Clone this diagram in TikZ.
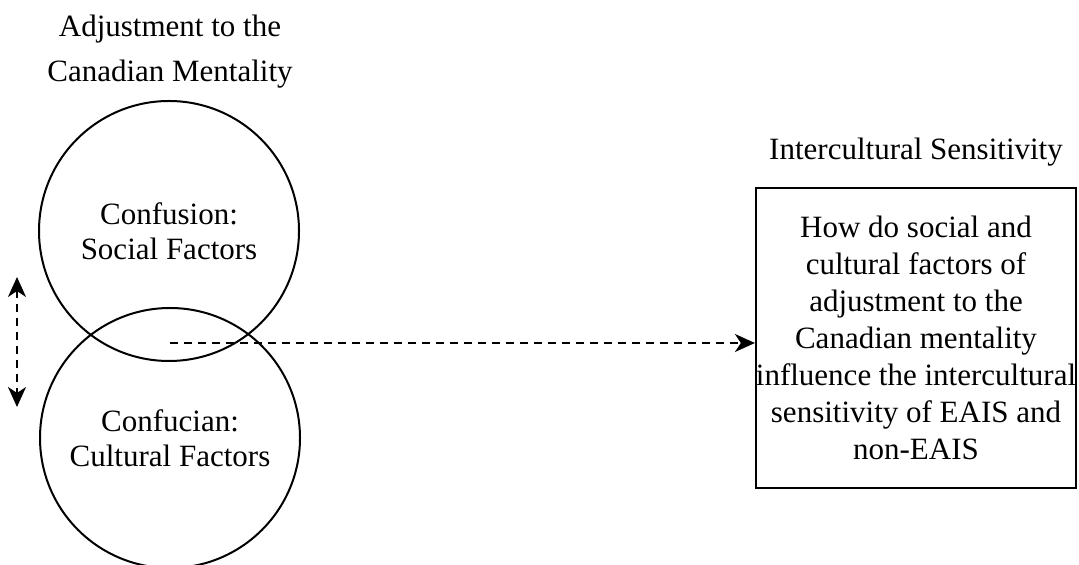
\documentclass[tikz,border=0pt]{standalone}
\usepackage{fontspec}
\setmainfont{Liberation Serif}
\usetikzlibrary{arrows.meta,positioning}
\tikzset{
  bubble/.style={circle, draw, line width=1pt, minimum size=130pt, inner sep=0pt,
    align=center, font=\fontsize{15.5}{17.5}\selectfont},
  qbox/.style={rectangle, draw, line width=1pt, minimum width=159pt, minimum height=149.5pt,
    inner sep=0pt, align=center, font=\fontsize{15.5}{18.5}\selectfont},
  title/.style={align=center, font=\fontsize{15.5}{22.5}\selectfont},
  tip/.tip={Stealth[length=10pt,width=9pt,inset=3pt]},
  link/.style={line width=1.2pt, dash pattern=on 4pt off 3pt, -tip},
}
\begin{document}
\begin{tikzpicture}[x=0.5pt, y=-0.5pt]
    \useasboundingbox (0,0) rectangle (1079,565);

    % 圆
    \node[bubble] (social) at (169,231) {Confusion:\\Social Factors};
    \node[bubble] (cultural) at (170,438) {Confucian:\\Cultural Factors};
    \node[title] (adjust) at (170,52) {Adjustment to the\\Canadian Mentality};

    % 方框
    \node[qbox] (question) at (916,338) {How do social and\\cultural factors of\\adjustment to the\\Canadian mentality\\influence the intercultural\\sensitivity of EAIS and\\non-EAIS};
    \node[title, above=7pt of question] (sens) {Intercultural Sensitivity};

    % 箭头
    \coordinate (start) at (170,343);
    \draw[link] (start) -- (question.west |- start);
    \coordinate (upA) at (17,277);
    \coordinate (downA) at (17,407);
    \draw[link, tip-tip] (upA) -- (downA);
\end{tikzpicture}
\end{document}
